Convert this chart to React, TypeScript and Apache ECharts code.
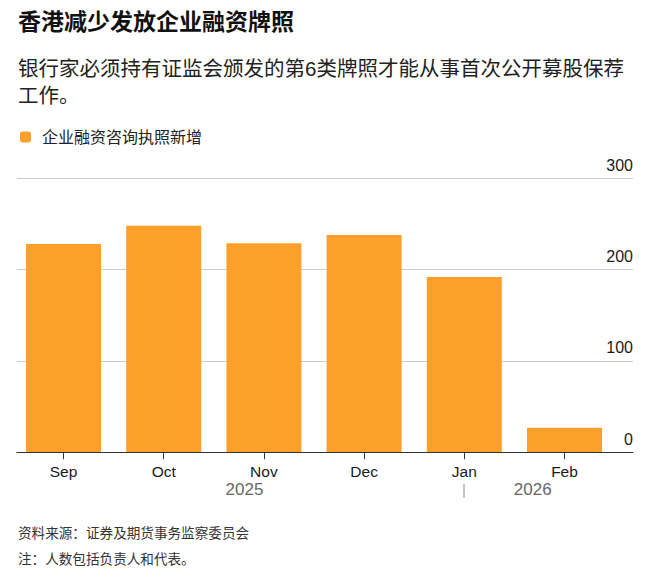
import React, { useEffect, useRef } from "react";
import * as echarts from "echarts";

const categories = ["Sep", "Oct", "Nov", "Dec", "Jan", "Feb"];
const values = [228, 248, 229, 238, 192, 27];
const yMin = 0;
const yMax = 300;
const yInterval = 100;
const years = ["2025", "2026"];
const seriesName = "企业融资咨询执照新增";
const titleText = "香港减少发放企业融资牌照";
const subtitleText = "银行家必须持有证监会颁发的第6类牌照才能从事首次公开募股保荐\n工作。";
const sourceText = "资料来源：证券及期货事务监察委员会";
const noteText = "注：人数包括负责人和代表。";

const FONT = "'Liberation Sans', 'Noto Sans CJK SC', sans-serif";
const BAR = "#FCA02B";

export default function App() {
  const ref = useRef<HTMLDivElement>(null);
  useEffect(() => {
    if (!ref.current) return;
    const chart = echarts.init(ref.current, null, { renderer: "svg" });
    chart.setOption({
      animation: false,
      backgroundColor: "#ffffff",
      textStyle: { fontFamily: FONT },
      title: [
        {
          text: titleText,
          left: 18,
          top: 6.7,
          padding: 0,
          textStyle: { fontFamily: FONT, fontSize: 23, fontWeight: "bold", color: "#111", lineHeight: 30 },
        },
        {
          text: subtitleText,
          left: 18,
          top: 54.5,
          padding: 0,
          textStyle: { fontFamily: FONT, fontSize: 20.5, fontWeight: "normal", color: "#222", lineHeight: 27 },
        },
        {
          text: sourceText,
          left: 18,
          top: 523.3,
          padding: 0,
          textStyle: { fontFamily: FONT, fontSize: 13.6, fontWeight: "normal", color: "#333", lineHeight: 20 },
        },
        {
          text: noteText,
          left: 18,
          top: 549.3,
          padding: 0,
          textStyle: { fontFamily: FONT, fontSize: 13.6, fontWeight: "normal", color: "#333", lineHeight: 20 },
        },
      ],
      legend: {
        left: 20,
        top: 129,
        padding: 0,
        icon: "roundRect",
        itemWidth: 11,
        itemHeight: 11,
        data: [seriesName],
        textStyle: { fontFamily: FONT, fontSize: 16, color: "#222", padding: [0, 0, 0, 6] },
        selectedMode: false,
      },
      grid: [
        { left: 13.4, right: 45.4, top: 178.3, bottom: 123.7 },
        { left: 17, right: 27, top: 178.3, bottom: 123.7 },
      ],
      xAxis: [
        {
          type: "category",
          gridIndex: 0,
          data: categories,
          axisLine: { show: false },
          axisTick: { show: true, alignWithLabel: true, length: 7, lineStyle: { color: "#333", width: 1 } },
          axisLabel: { fontFamily: FONT, fontSize: 15.5, color: "#1a1a1a", margin: 11 },
          splitLine: { show: false },
        },
        {
          type: "value",
          gridIndex: 1,
          min: 0,
          max: 1,
          z: 5,
          axisLine: { show: true, onZero: false, lineStyle: { color: "#333", width: 1.2 } },
          axisTick: { show: false },
          axisLabel: { show: false },
          splitLine: { show: false },
        },
      ],
      yAxis: [
        {
          type: "value",
          gridIndex: 0,
          min: yMin,
          max: yMax,
          interval: yInterval,
          show: false,
          splitLine: { show: false },
        },
        {
          type: "value",
          gridIndex: 1,
          min: yMin,
          max: yMax,
          interval: yInterval,
          position: "right",
          axisLine: { show: false },
          axisTick: { show: false },
          axisLabel: {
            inside: true,
            margin: 0,
            align: "right",
            verticalAlign: "bottom",
            lineHeight: 26,
            fontFamily: FONT,
            fontSize: 16,
            color: "#1a1a1a",
          },
          splitLine: { show: true, lineStyle: { color: "#cccccc", width: 1 } },
        },
      ],
      series: [
        {
          name: seriesName,
          type: "bar",
          xAxisIndex: 0,
          yAxisIndex: 0,
          data: values,
          barWidth: 75,
          itemStyle: { color: BAR },
        },
      ],
      graphic: [
        {
          type: "text",
          x: 244.5,
          y: 489,
          style: { text: years[0], fontFamily: FONT, fontSize: 17, fill: "#666", align: "center", verticalAlign: "middle" },
        },
        {
          type: "text",
          x: 532.7,
          y: 489,
          style: { text: years[1], fontFamily: FONT, fontSize: 17, fill: "#666", align: "center", verticalAlign: "middle" },
        },
        {
          type: "line",
          shape: { x1: 464, y1: 484, x2: 464, y2: 498 },
          style: { stroke: "#888", lineWidth: 1 },
        },
      ],
    });
    return () => chart.dispose();
  }, []);
  return <div ref={ref} style={{ position: "absolute", left: 0, top: 0, width: 660, height: 576 }} />;
}
